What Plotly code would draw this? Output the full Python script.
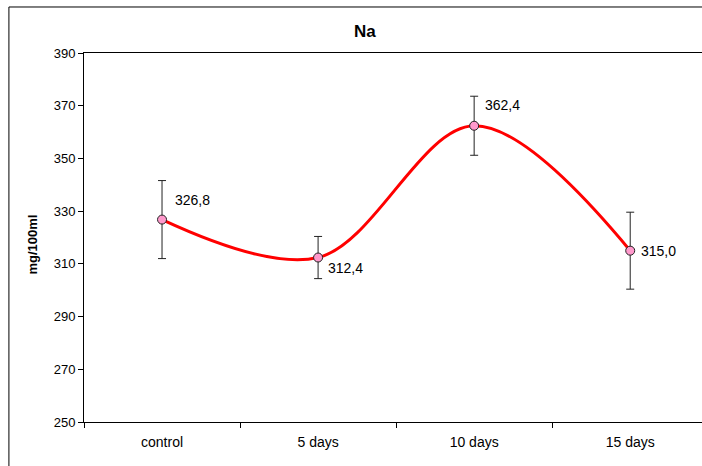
import plotly.graph_objects as go

categories = ["control", "5 days", "10 days", "15 days"]
values = [326.8, 312.4, 362.4, 315.0]
errors = [14.8, 8.0, 11.2, 14.6]
labels = ["326,8", "312,4", "362,4", "315,0"]
label_shift = [(11, 20), (8, -10), (9, 21), (9, 0)]

FONT = "Liberation Sans, Arial, sans-serif"

fig = go.Figure()
fig.add_trace(go.Scatter(
    x=categories, y=values,
    mode="lines+markers",
    line=dict(color="#ff0000", width=3, shape="spline", smoothing=1.0),
    marker=dict(size=9, color="#ff99cc", line=dict(color="#222222", width=1)),
    error_y=dict(type="data", array=errors, visible=True, color="#222222", thickness=1, width=4),
    showlegend=False,
    hoverinfo="skip",
))

annotations = []
for c, v, t, (dx, dy) in zip(categories, values, labels, label_shift):
    annotations.append(dict(
        x=c, y=v, xref="x", yref="y", text=t, showarrow=False,
        xanchor="left", yanchor="middle", xshift=dx, yshift=dy,
        font=dict(family=FONT, size=14, color="#000000"),
    ))

annotations.append(dict(
    x=0.455, y=1.057, xref="paper", yref="paper", text="<b>Na</b>", showarrow=False,
    xanchor="center", yanchor="middle", font=dict(family=FONT, size=17, color="#000000"),
))
annotations.append(dict(
    x=-0.083, y=0.48, xref="paper", yref="paper", text="<b>mg/100ml</b>", showarrow=False,
    textangle=-90, xanchor="center", yanchor="middle",
    font=dict(family=FONT, size=13, color="#000000"),
))

fig.update_layout(
    width=702, height=466,
    margin=dict(l=84, r=0, t=53, b=44),
    paper_bgcolor="white", plot_bgcolor="white",
    font=dict(family=FONT, size=13, color="#000000"),
    annotations=annotations,
    shapes=[dict(
        type="rect", xref="paper", yref="paper",
        x0=-0.1215, x1=1.2, y0=-0.3, y1=1.1247,
        line=dict(color="#000000", width=1), fillcolor="rgba(0,0,0,0)", layer="below",
    )],
)

fig.update_xaxes(
    type="category", range=[-0.5, 3.46],
    showline=True, linecolor="#000000", linewidth=1, mirror=True,
    ticks="outside", tickson="boundaries", ticklen=5, tickcolor="#000000",
    ticklabelstandoff=7,
    showgrid=False, zeroline=False,
    tickfont=dict(family=FONT, size=14, color="#000000"),
)
fig.update_yaxes(
    range=[250, 390],
    tickvals=[250, 270, 290, 310, 330, 350, 370, 390],
    showline=True, linecolor="#000000", linewidth=1,
    ticks="outside", ticklen=5, tickcolor="#000000",
    showgrid=False, zeroline=False,
    tickfont=dict(family=FONT, size=13, color="#000000"),
)

fig.write_html(
    "out.html",
    config={"displayModeBar": False},
    post_script="document.body.style.margin='0';document.body.style.padding='0';document.body.style.overflow='hidden';document.documentElement.style.overflow='hidden';",
)
